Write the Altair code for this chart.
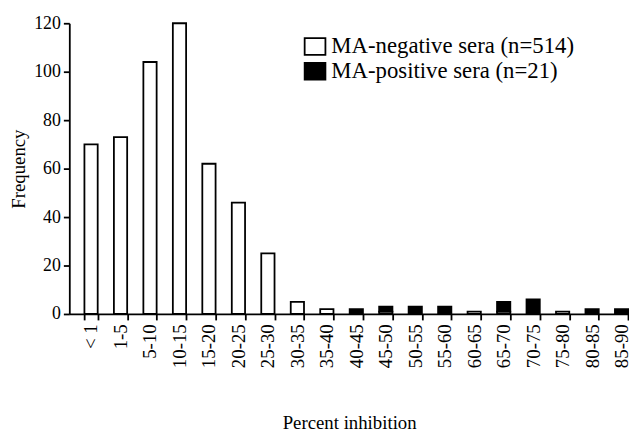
import altair as alt
import pandas as pd

categories = ["< 1", "1-5", "5-10", "10-15", "15-20", "20-25", "25-30", "30-35",
              "35-40", "40-45", "45-50", "50-55", "55-60", "60-65", "65-70",
              "70-75", "75-80", "80-85", "85-90"]
negative = [70, 73, 104, 120, 62, 46, 25, 5, 2, 0, 1, 0, 0, 1, 1, 0, 1, 0, 0]
positive = [0, 0, 0, 0, 0, 0, 0, 0, 0, 2, 2, 3, 3, 0, 4, 6, 0, 2, 2]
series = ["MA-negative sera (n=514)", "MA-positive sera (n=21)"]
y_ticks = [0, 20, 40, 60, 80, 100, 120]

rows = []
for c, n, p in zip(categories, negative, positive):
    rows.append({"cat": c, "series": series[0], "value": n, "ord": 0})
    rows.append({"cat": c, "series": series[1], "value": p, "ord": 1})
df = pd.DataFrame(rows)

FONT = "Liberation Serif"

chart = alt.Chart(df).transform_filter(
    alt.datum.value > 0
).mark_bar(stroke="black", strokeWidth=1.8).encode(
    x=alt.X("cat:N", sort=categories,
            scale=alt.Scale(paddingInner=0.55, paddingOuter=0.27, align=0.95),
            axis=alt.Axis(title="Percent inhibition", labelAngle=-90, tickBand="extent",
                          tickSize=6, labelFontSize=19, labelPadding=4,
                          titleFontSize=19, titlePadding=47, titleFontWeight="normal")),
    y=alt.Y("value:Q", stack="zero",
            scale=alt.Scale(domain=[0, 120], nice=False),
            axis=alt.Axis(title="Frequency", values=y_ticks, tickSize=6, labelFontSize=18,
                          labelPadding=3, titleFontSize=19, titlePadding=5,
                          titleFontWeight="normal", grid=False)),
    fill=alt.Fill("series:N", scale=alt.Scale(domain=series, range=["white", "black"]),
                  legend=alt.Legend(title=None, orient="none", legendX=237, legendY=12,
                                    symbolType="M-1,-0.8H1V0.8H-1Z", symbolSize=441,
                                    symbolStrokeColor="black", symbolStrokeWidth=1.8,
                                    labelFont=FONT, labelFontSize=23, labelColor="black",
                                    labelLimit=0, rowPadding=0, labelOffset=5)),
    order=alt.Order("ord:Q"),
).properties(
    width=566, height=294,
    padding={"left": 62, "top": 13, "right": 0, "bottom": 122},
    autosize="none",
).configure_view(stroke=None).configure_axis(
    domainColor="black", tickColor="black", labelColor="black", titleColor="black",
    labelFont=FONT, titleFont=FONT, domainWidth=1.8, tickWidth=1.8,
)

chart.save("out.html", embed_options={"renderer": "svg", "actions": False})
